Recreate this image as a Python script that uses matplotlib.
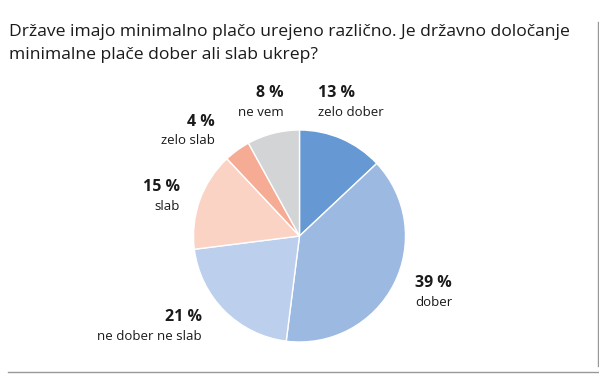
import matplotlib
matplotlib.use("Agg")
import matplotlib.pyplot as plt
from matplotlib.lines import Line2D

plt.rcParams['font.family'] = ['Open Sans', 'DejaVu Sans']

# podatki
categories = ['zelo dober', 'dober', 'ne dober ne slab', 'slab', 'zelo slab', 'ne vem']
values = [13, 39, 21, 15, 4, 8]
colors = ['#6699d4', '#9cb9e2', '#bccfed', '#fad3c5', '#f6ab95', '#d3d4d6']

title = ('Države imajo minimalno plačo urejeno različno. Je državno določanje\n'
         'minimalne plače dober ali slab ukrep?')

# pozicije oznak v pikslih (x, y od zgoraj, poravnava)
label_pos = [(318, 93, 'left'), (415, 283, 'left'), (202, 317, 'right'),
             (180, 187, 'right'), (215, 122, 'right'), (284, 93, 'right')]

W, H = 599, 374
fig = plt.figure(figsize=(W / 100, H / 100), dpi=100)

cx, cy, r = 299.5, 236, 106
ax = fig.add_axes([(cx - r) / W, (H - cy - r) / H, 2 * r / W, 2 * r / H])
ax.pie(values, colors=colors, startangle=90, counterclock=False,
       wedgeprops=dict(edgecolor='white', linewidth=1))
ax.set_xlim(-1, 1)
ax.set_ylim(-1, 1)
ax.set_aspect('equal')
ax.axis('off')

for cat, val, (x, y, ha) in zip(categories, values, label_pos):
    fig.text(x / W, 1 - y / H, f'{val} %', ha=ha, va='center',
             fontsize=11.5, fontweight='bold', color='#1a1a1a')
    fig.text(x / W, 1 - (y + 19) / H, cat, ha=ha, va='center',
             fontsize=9.5, color='#1a1a1a')

fig.text(9 / W, 1 - 32 / H, title.split('\n')[0], ha='left', va='center',
         fontsize=12.6, color='#1a1a1a')
fig.text(9 / W, 1 - 55 / H, title.split('\n')[1], ha='left', va='center',
         fontsize=12.6, color='#1a1a1a')

# okvir
fig.add_artist(Line2D([598 / W, 598 / W], [1 - 22 / H, 1 - 366 / H],
                      color='#999999', linewidth=1))
fig.add_artist(Line2D([8 / W, 1], [1 - 372 / H, 1 - 372 / H],
                      color='#999999', linewidth=1))

fig.savefig('out.png', dpi=100, facecolor='white')
